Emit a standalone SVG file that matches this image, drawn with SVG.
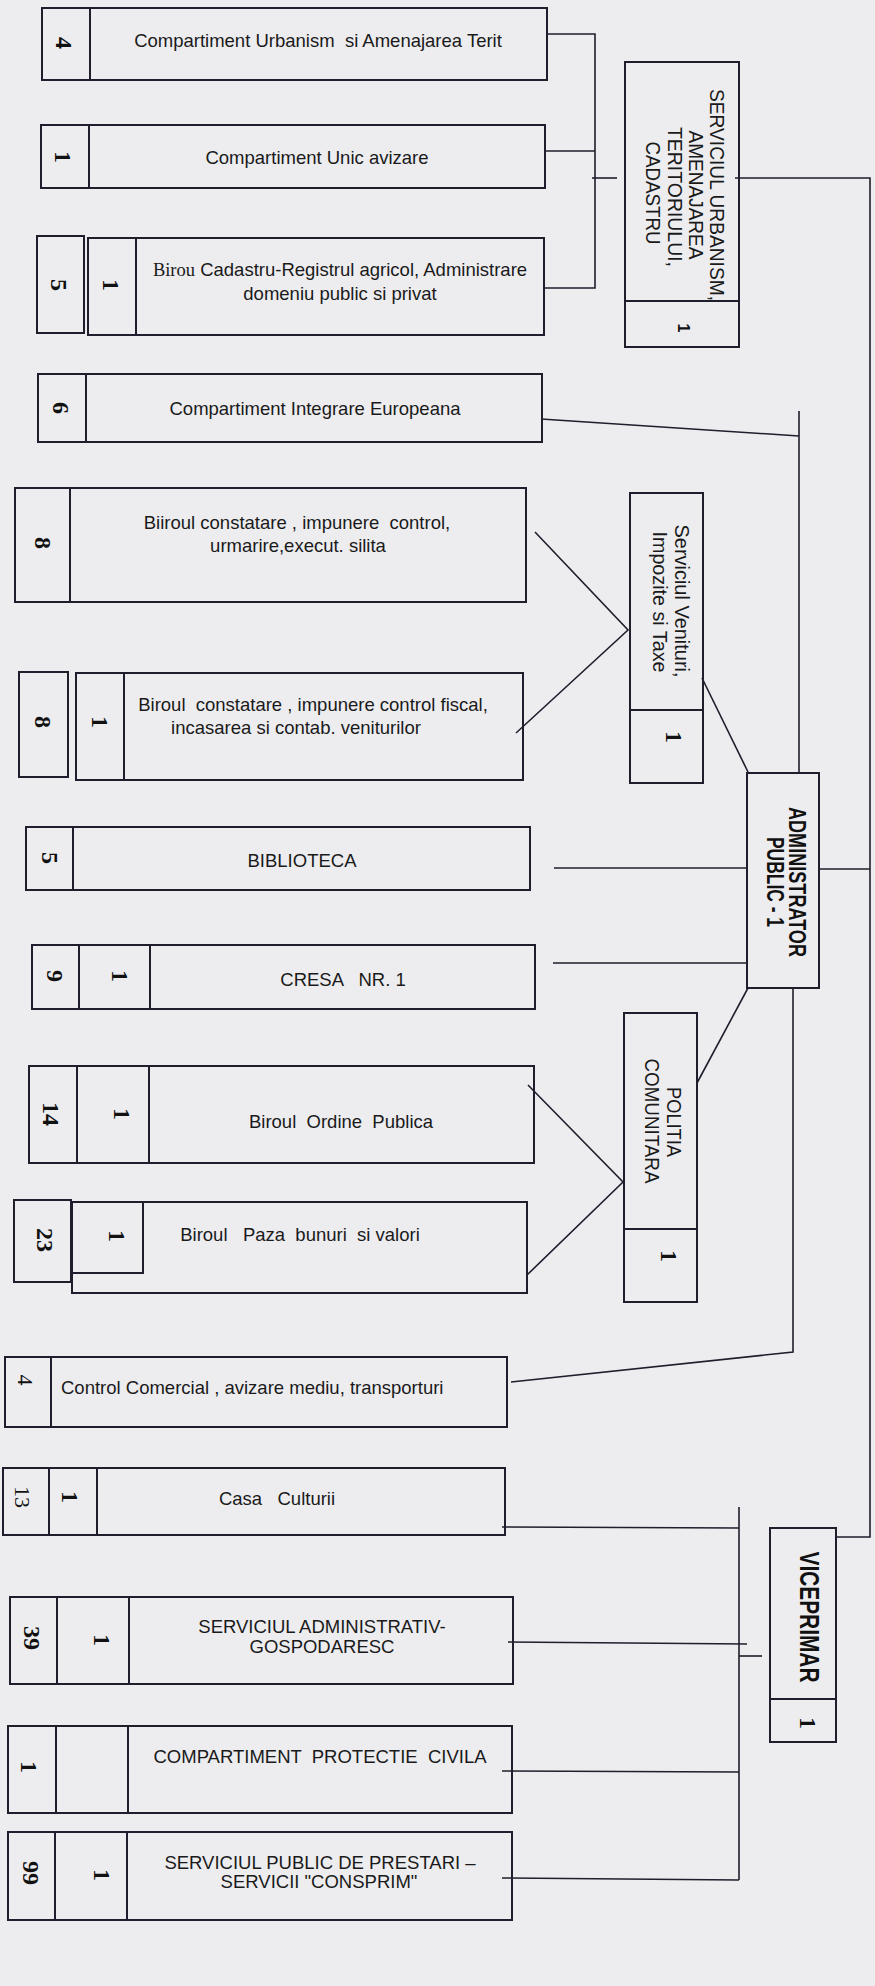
<svg xmlns="http://www.w3.org/2000/svg" width="875" height="1986" viewBox="0 0 875 1986">
<style>
.box{fill:none;stroke:#1e1e2c;stroke-width:2}
.ln{fill:none;stroke:#1e1e2c;stroke-width:1.6}
.t{font-family:"Liberation Sans",Arial,sans-serif;font-size:18.5px;fill:#1a1a1a;text-anchor:middle;white-space:pre}
.ts{text-anchor:start}
.num{font-family:"Liberation Serif","Times New Roman",serif;font-weight:bold;font-size:24px;fill:#111;text-anchor:middle}
.numr{font-family:"Liberation Serif","Times New Roman",serif;font-size:22px;fill:#111;text-anchor:middle}
.vt{font-family:"Liberation Sans",Arial,sans-serif;font-size:20.5px;fill:#1a1a1a;text-anchor:middle}
.vb{font-family:"Liberation Sans",Arial,sans-serif;font-weight:bold;fill:#111;text-anchor:middle}
</style>
<rect width="875" height="1986" fill="#ededf0"/>

<g id="connectors" class="ln">
  <polyline points="547,34 595,34 595,288 544,288"/>
  <line x1="545" y1="151" x2="595" y2="151"/>
  <line x1="592" y1="178" x2="617" y2="178"/>
  <polyline points="735,178 870,178 870,1537 836,1537"/>
  <line x1="541" y1="419" x2="799" y2="436"/>
  <line x1="799" y1="411" x2="799" y2="773"/>
  <polyline points="535,532 628,630 516,733"/>
  <line x1="702" y1="678" x2="748" y2="772"/>
  <line x1="554" y1="868" x2="747" y2="868"/>
  <line x1="553" y1="963" x2="747" y2="963"/>
  <line x1="818" y1="869" x2="870" y2="869"/>
  <line x1="748" y1="988" x2="697" y2="1083"/>
  <polyline points="528,1085 623,1182 527,1275"/>
  <polyline points="793,988 793,1352 511,1382"/>
  <line x1="739" y1="1507" x2="739" y2="1880"/>
  <line x1="502" y1="1527" x2="739" y2="1528"/>
  <line x1="508" y1="1642" x2="747" y2="1644"/>
  <line x1="739" y1="1656" x2="762" y2="1656"/>
  <line x1="502" y1="1771" x2="739" y2="1772"/>
  <line x1="502" y1="1878" x2="739" y2="1880"/>
</g>

<g id="n-urbanism-terit">
  <rect class="box" x="42" y="8" width="505" height="72"/>
  <line class="box" x1="90" y1="8" x2="90" y2="80"/>
  <text class="num" transform="translate(56,43) rotate(90)">4</text>
  <text class="t" x="318" y="47">Compartiment Urbanism  si Amenajarea Terit</text>
</g>

<g id="n-unic-avizare">
  <rect class="box" x="41" y="125" width="504" height="63"/>
  <line class="box" x1="89" y1="125" x2="89" y2="188"/>
  <text class="num" transform="translate(55,157) rotate(90)">1</text>
  <text class="t" x="317" y="164">Compartiment Unic avizare</text>
</g>

<g id="n-cadastru">
  <rect class="box" x="37" y="236" width="47" height="97"/>
  <rect class="box" x="88" y="238" width="456" height="97"/>
  <line class="box" x1="136" y1="238" x2="136" y2="335"/>
  <text class="num" transform="translate(51,285) rotate(90)">5</text>
  <text class="num" transform="translate(103,285) rotate(90)">1</text>
  <text class="t" x="340" y="276"><tspan font-family="'Liberation Serif',serif">Birou</tspan> Cadastru-Registrul agricol, Administrare</text>
  <text class="t" x="340" y="300">domeniu public si privat</text>
</g>

<g id="n-serviciul-urbanism">
  <rect class="box" x="625" y="62" width="114" height="285"/>
  <line class="box" x1="625" y1="301" x2="739" y2="301"/>
  <text class="vt" transform="translate(709.7,195) rotate(90)" textLength="212" lengthAdjust="spacingAndGlyphs">SERVICIUL URBANISM,</text>
  <text class="vt" transform="translate(688.7,195) rotate(90)" textLength="129" lengthAdjust="spacingAndGlyphs">AMENAJAREA</text>
  <text class="vt" transform="translate(667.7,197) rotate(90)" textLength="140" lengthAdjust="spacingAndGlyphs">TERITORIULUI,</text>
  <text class="vt" transform="translate(645.7,193) rotate(90)" textLength="103" lengthAdjust="spacingAndGlyphs">CADASTRU</text>
  <text class="vb" font-size="16" transform="translate(678,328) rotate(90)">1</text>
</g>

<g id="n-integrare">
  <rect class="box" x="38" y="374" width="504" height="68"/>
  <line class="box" x1="86" y1="374" x2="86" y2="442"/>
  <text class="num" transform="translate(53,408) rotate(90)">6</text>
  <text class="t" x="315" y="415">Compartiment Integrare Europeana</text>
</g>

<g id="n-biiroul-executare">
  <rect class="box" x="15" y="488" width="511" height="114"/>
  <line class="box" x1="70" y1="488" x2="70" y2="602"/>
  <text class="num" transform="translate(35,543) rotate(90)">8</text>
  <text class="t" x="297" y="529">Biiroul constatare , impunere  control,</text>
  <text class="t" x="298" y="552">urmarire,execut. silita</text>
</g>

<g id="n-biroul-fiscal">
  <rect class="box" x="19" y="672" width="49" height="105"/>
  <rect class="box" x="76" y="673" width="447" height="107"/>
  <line class="box" x1="124" y1="673" x2="124" y2="780"/>
  <text class="num" transform="translate(35,722) rotate(90)">8</text>
  <text class="num" transform="translate(92,722) rotate(90)">1</text>
  <text class="t" x="313" y="711">Biroul  constatare , impunere control fiscal,</text>
  <text class="t" x="296" y="734">incasarea si contab. veniturilor</text>
</g>

<g id="n-venituri">
  <rect class="box" x="630" y="493" width="73" height="290"/>
  <line class="box" x1="630" y1="710" x2="703" y2="710"/>
  <text class="vt" font-size="20" transform="translate(675,601) rotate(90)" textLength="153" lengthAdjust="spacingAndGlyphs">Serviciul Venituri,</text>
  <text class="vt" font-size="20" transform="translate(653,602) rotate(90)" textLength="141" lengthAdjust="spacingAndGlyphs">Impozite si Taxe</text>
  <text class="num" transform="translate(666,737) rotate(90)">1</text>
</g>

<g id="n-administrator">
  <rect class="box" x="747" y="773" width="72" height="215"/>
  <text class="vb" font-size="23" transform="translate(789,882) rotate(90)" textLength="150" lengthAdjust="spacingAndGlyphs">ADMINISTRATOR</text>
  <text class="vb" font-size="23" transform="translate(767,882) rotate(90)" textLength="90" lengthAdjust="spacingAndGlyphs">PUBLIC - 1</text>
</g>

<g id="n-biblioteca">
  <rect class="box" x="26" y="827" width="504" height="63"/>
  <line class="box" x1="73" y1="827" x2="73" y2="890"/>
  <text class="num" transform="translate(42,858) rotate(90)">5</text>
  <text class="t" x="302" y="867">BIBLIOTECA</text>
</g>

<g id="n-cresa">
  <rect class="box" x="32" y="945" width="503" height="64"/>
  <line class="box" x1="79" y1="945" x2="79" y2="1009"/>
  <line class="box" x1="150" y1="945" x2="150" y2="1009"/>
  <text class="num" transform="translate(47,976) rotate(90)">9</text>
  <text class="num" transform="translate(112,976) rotate(90)">1</text>
  <text class="t" x="343" y="986">CRESA   NR. 1</text>
</g>

<g id="n-politia">
  <rect class="box" x="624" y="1013" width="73" height="289"/>
  <line class="box" x1="624" y1="1229" x2="697" y2="1229"/>
  <text class="vt" font-size="22" transform="translate(667,1122) rotate(90)" textLength="70" lengthAdjust="spacingAndGlyphs">POLITIA</text>
  <text class="vt" font-size="22" transform="translate(645,1121) rotate(90)" textLength="125" lengthAdjust="spacingAndGlyphs">COMUNITARA</text>
  <text class="num" transform="translate(661,1256) rotate(90)">1</text>
</g>

<g id="n-ordine-publica">
  <rect class="box" x="29" y="1066" width="505" height="97"/>
  <line class="box" x1="77" y1="1066" x2="77" y2="1163"/>
  <line class="box" x1="149" y1="1066" x2="149" y2="1163"/>
  <text class="num" transform="translate(43,1114) rotate(90)">14</text>
  <text class="num" transform="translate(114,1114) rotate(90)">1</text>
  <text class="t" x="341" y="1128">Biroul  Ordine  Publica</text>
</g>

<g id="n-paza">
  <rect class="box" x="14" y="1200" width="57" height="82"/>
  <rect class="box" x="72" y="1202" width="455" height="91"/>
  <rect class="box" x="72" y="1202" width="71" height="71"/>
  <text class="num" transform="translate(37,1240) rotate(90)">23</text>
  <text class="num" transform="translate(109,1236) rotate(90)">1</text>
  <text class="t" x="300" y="1241">Biroul   Paza  bunuri  si valori</text>
</g>

<g id="n-control-comercial">
  <rect class="box" x="5" y="1357" width="502" height="70"/>
  <line class="box" x1="51" y1="1357" x2="51" y2="1427"/>
  <text class="numr" transform="translate(17.5,1380) rotate(90)">4</text>
  <text class="t ts" x="61" y="1394">Control Comercial , avizare mediu, transporturi</text>
</g>

<g id="n-casa-culturii">
  <rect class="box" x="3" y="1468" width="502" height="67"/>
  <line class="box" x1="49" y1="1468" x2="49" y2="1535"/>
  <line class="box" x1="97" y1="1468" x2="97" y2="1535"/>
  <text class="numr" transform="translate(14.5,1497) rotate(90)">13</text>
  <text class="num" transform="translate(62,1497) rotate(90)">1</text>
  <text class="t" x="277" y="1505">Casa   Culturii</text>
</g>

<g id="n-administrativ">
  <rect class="box" x="10" y="1597" width="503" height="87"/>
  <line class="box" x1="57" y1="1597" x2="57" y2="1684"/>
  <line class="box" x1="129" y1="1597" x2="129" y2="1684"/>
  <text class="num" transform="translate(24,1638) rotate(90)">39</text>
  <text class="num" transform="translate(94,1640) rotate(90)">1</text>
  <text class="t" x="322" y="1633">SERVICIUL ADMINISTRATIV-</text>
  <text class="t" x="322" y="1653">GOSPODARESC</text>
</g>

<g id="n-protectie">
  <rect class="box" x="8" y="1726" width="504" height="87"/>
  <line class="box" x1="56" y1="1726" x2="56" y2="1813"/>
  <line class="box" x1="128" y1="1726" x2="128" y2="1813"/>
  <text class="num" transform="translate(21,1767) rotate(90)">1</text>
  <text class="t" x="320" y="1763">COMPARTIMENT  PROTECTIE  CIVILA</text>
</g>

<g id="n-consprim">
  <rect class="box" x="8" y="1832" width="504" height="88"/>
  <line class="box" x1="55" y1="1832" x2="55" y2="1920"/>
  <line class="box" x1="127" y1="1832" x2="127" y2="1920"/>
  <text class="num" transform="translate(23,1873) rotate(90)">99</text>
  <text class="num" transform="translate(94,1875) rotate(90)">1</text>
  <text class="t" x="320" y="1869">SERVICIUL PUBLIC DE PRESTARI –</text>
  <text class="t" x="319" y="1888">SERVICII "CONSPRIM"</text>
</g>

<g id="n-viceprimar">
  <rect class="box" x="770" y="1528" width="66" height="214"/>
  <line class="box" x1="770" y1="1699" x2="836" y2="1699"/>
  <text class="vb" font-size="27" transform="translate(799.5,1617) rotate(90)" textLength="131" lengthAdjust="spacingAndGlyphs">VICEPRIMAR</text>
  <text class="num" transform="translate(800,1723) rotate(90)">1</text>
</g>
</svg>
